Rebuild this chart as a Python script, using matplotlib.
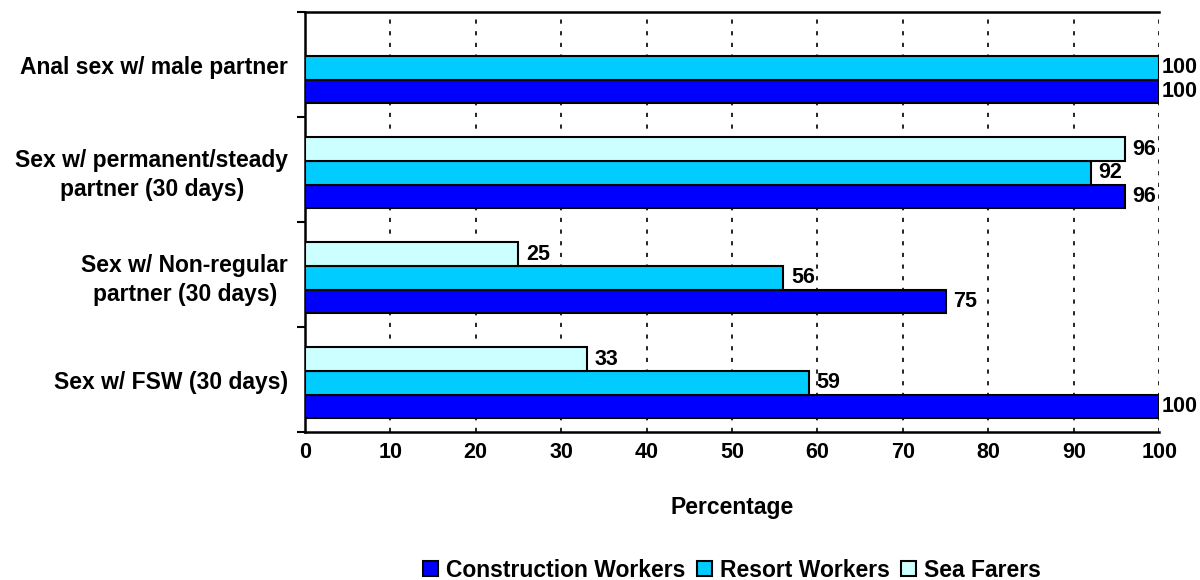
import matplotlib
matplotlib.use("Agg")
import matplotlib.pyplot as plt
from matplotlib.patches import Patch
import numpy as np

plt.rcParams['font.family'] = ['Liberation Sans', 'DejaVu Sans']
plt.rcParams['font.weight'] = 'bold'

categorias = ['Anal sex w/ male partner',
              'Sex w/ permanent/steady\npartner (30 days)',
              'Sex w/ Non-regular\npartner (30 days)',
              'Sex w/ FSW (30 days)']
construction = [100, 96, 75, 100]
resort = [100, 92, 56, 59]
sea_farers = [None, 96, 25, 33]

series = [('Construction Workers', construction, '#0000FF'),
          ('Resort Workers', resort, '#00CCFF'),
          ('Sea Farers', sea_farers, '#CCFFFF')]

fig = plt.figure(figsize=(12, 5.8), dpi=100)
ax = fig.add_axes([0.254, 0.255, 0.712, 0.724])

indice = np.arange(len(categorias)) + 0.5
bar_larg = 0.226
deslocamento = [bar_larg, 0.0, -bar_larg]

for (nome, valores, cor), d in zip(series, deslocamento):
    pos = [p + d + 0.03 for p, v in zip(indice, valores) if v is not None]
    vals = [v for v in valores if v is not None]
    ax.barh(pos, vals, bar_larg, color=cor, edgecolor='black',
            linewidth=1.5, zorder=3)
    # rotulos de valor a direita de cada barra
    for y, v in zip(pos, vals):
        desloc = 2 if v >= 100 else 5.5
        ax.annotate(str(v), (v, y), xytext=(desloc, 0), textcoords='offset points',
                    ha='left', va='center', fontsize=15.5, fontweight='bold',
                    annotation_clip=False, zorder=4)

ax.set_xlim(0, 100)
ax.set_ylim(len(categorias), 0)
ax.set_xticks(np.arange(0, 101, 10))
ax.tick_params(axis='x', length=0, pad=7, labelsize=15.5)
ax.set_yticks(np.arange(0, len(categorias) + 1))
ax.set_yticklabels([])
ax.tick_params(axis='y', which='major', direction='out', length=6, width=1.5)
ax.set_yticks(indice, minor=True)
ax.set_yticklabels(categorias, minor=True, fontsize=16.5, fontweight='bold',
                   multialignment='center', linespacing=1.3)
ax.tick_params(axis='y', which='minor', length=0, pad=12)

ax.grid(axis='x', color='black', linestyle=(0, (2.5, 4.5)), linewidth=1.2, zorder=1)
ax.spines['right'].set_visible(False)
for s in ['left', 'bottom', 'top']:
    ax.spines[s].set_linewidth(1.8)

ax.set_xlabel('Percentage', fontsize=16.5, fontweight='bold', labelpad=24)

handles = [Patch(facecolor=c, edgecolor='black', linewidth=1.5, label=n)
           for n, v, c in series]
fig.legend(handles=handles, loc='center', bbox_to_anchor=(0.61, 0.017),
           ncol=3, frameon=False, fontsize=16.5, handlelength=0.65,
           handleheight=0.65, handletextpad=0.35, columnspacing=0.5)

fig.savefig('out.png', dpi=100)
